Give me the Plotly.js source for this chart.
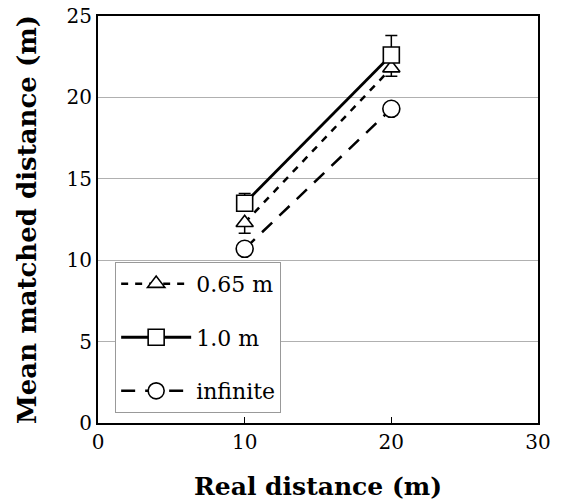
<!DOCTYPE html>
<html><head><meta charset="utf-8">
<script src="https://cdn.plot.ly/plotly-3.0.1.min.js"></script>
<style>html,body{margin:0;padding:0;background:#fff}#chart{width:562px;height:504px}</style>
</head><body><div id="chart"></div>
<script>
const realDistance = [10, 20];
const names = ["0.65 m", "1.0 m", "infinite"];
const mean065 = [12.3, 21.8];
const err065Minus = [0.65, 0.5];
const err065Plus = [0, 0];
const mean10 = [13.5, 22.6];
const err10Plus = [0.6, 1.2];
const err10Minus = [0, 0];
const meanInf = [10.7, 19.3];
const xTicks = [0, 10, 20, 30];
const yTicks = [0, 5, 10, 15, 20, 25];

const serif = "DejaVu Serif, serif";
const mk = (sym, s) => ({symbol: sym, size: s, color: "white", line: {color: "black", width: 1.6}});

const traces = [
  {x: realDistance, y: mean065, name: names[0], mode: "lines+markers", legendgroup: "a",
   line: {color: "black", width: 2.5, dash: "7px,7px"}, marker: mk("triangle-up", 15),
   error_y: {type: "data", symmetric: false, array: err065Plus, arrayminus: err065Minus, color: "black", thickness: 1.5, width: 6}},
  {x: realDistance, y: mean10, name: names[1], mode: "lines+markers", legendgroup: "b",
   line: {color: "black", width: 2.8}, marker: mk("square", 16),
   error_y: {type: "data", symmetric: false, array: err10Plus, arrayminus: err10Minus, color: "black", thickness: 1.5, width: 6}},
  {x: realDistance, y: meanInf, name: names[2], mode: "lines+markers", legendgroup: "c",
   line: {color: "black", width: 2.5, dash: "14px,10px"}, marker: mk("circle", 17)}
];

const layout = {
  width: 562, height: 504,
  margin: {l: 98, r: 24, t: 16, b: 81},
  paper_bgcolor: "white", plot_bgcolor: "white",
  font: {family: serif, color: "black", size: 20},
  showlegend: true,
  legend: {x: 0.039, y: 0.396, xanchor: "left", yanchor: "top",
           bgcolor: "white", bordercolor: "#999", borderwidth: 1, itemwidth: 70,
           font: {family: serif, size: 22, color: "black"}, tracegroupgap: 22},
  xaxis: {range: [0, 30], tickvals: xTicks, ticktext: xTicks.map(String),
          showline: true, mirror: true, linecolor: "black", linewidth: 2,
          ticks: "inside", ticklen: 6, tickcolor: "black", showgrid: false, zeroline: false,
          tickfont: {family: serif, size: 20},
          title: {text: "<b>Real distance (m)</b>", font: {family: serif, size: 25}, standoff: 24}},
  yaxis: {range: [0, 25], tickvals: yTicks, ticktext: yTicks.map(String),
          showline: true, mirror: true, linecolor: "black", linewidth: 2,
          ticks: "", showgrid: true, gridcolor: "#b0b0b0", gridwidth: 1, zeroline: false,
          tickfont: {family: serif, size: 20},
          title: {text: "<b>Mean matched distance (m)</b>", font: {family: serif, size: 26}, standoff: 22}}
};
Plotly.newPlot("chart", traces, layout, {displayModeBar: false, staticPlot: true});
</script></body></html>
